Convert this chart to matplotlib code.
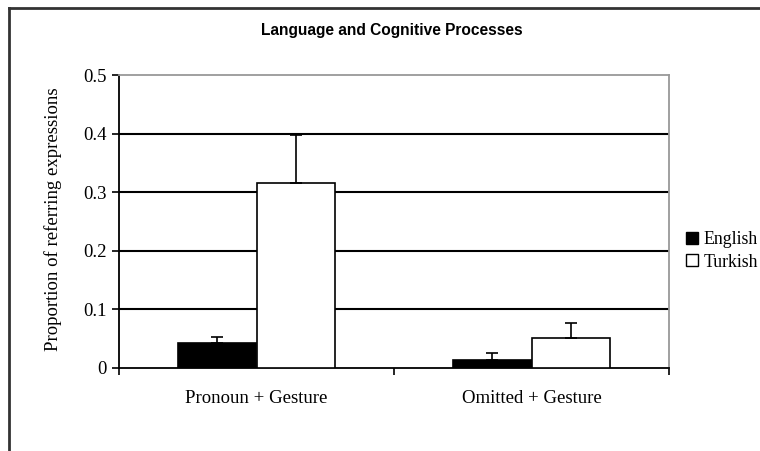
import numpy as np
import matplotlib.pyplot as plt
from matplotlib.lines import Line2D

# data
categories = ['Pronoun + Gesture', 'Omitted + Gesture']
english = [0.043, 0.013]
turkish = [0.315, 0.051]
english_err = [0.010, 0.013]
turkish_err = [0.083, 0.025]
yticks = [0, 0.1, 0.2, 0.3, 0.4, 0.5]

W, H = 760, 451
fig = plt.figure(figsize=(W/100, H/100), dpi=100)
ax = fig.add_axes([119/W, 1-368/H, 550/W, 293/H])

serif = 'Liberation Serif'
fs = 13.5
x = np.arange(len(categories)) + 0.5
bw = 0.284

ax.bar(x - bw/2, english, bw, color='black', edgecolor='black', lw=1.2,
       yerr=[np.zeros(2), english_err], error_kw=dict(ecolor='black', lw=1.2, capsize=4, capthick=1.2),
       label='English', zorder=3)
ax.bar(x + bw/2, turkish, bw, color='white', edgecolor='black', lw=1.2,
       yerr=[np.zeros(2), turkish_err], error_kw=dict(ecolor='black', lw=1.2, capsize=4, capthick=1.2),
       label='Turkish', zorder=3)

ax.set_xlim(0, 2)
ax.set_ylim(0, 0.5)
ax.set_yticks(yticks)
ax.set_yticklabels(['0', '0.1', '0.2', '0.3', '0.4', '0.5'], fontfamily=serif, fontsize=fs)
for y in yticks[1:-1]:
    ax.axhline(y, color='black', lw=1.5, zorder=1)

ax.set_xticks(x)
ax.set_xticklabels(categories, fontfamily=serif, fontsize=fs)
ax.tick_params(axis='x', which='major', length=0, pad=16)
ax.set_xticks([0, 1, 2], minor=True)
ax.tick_params(axis='x', which='minor', length=5, width=1.2, direction='out')
ax.tick_params(axis='y', length=5, width=1.2, direction='out', pad=4)

ax.spines['left'].set_linewidth(1.3)
ax.spines['bottom'].set_linewidth(1.3)
ax.spines['top'].set_color('#999999')
ax.spines['right'].set_color('#999999')
ax.spines['top'].set_linewidth(1.3)
ax.spines['right'].set_linewidth(1.3)

ax.set_ylabel('Proportion of referring expressions', fontfamily=serif, fontsize=fs)
ax.yaxis.set_label_coords(62/W, 1-219/H, transform=fig.transFigure)

handles = [Line2D([], [], marker='s', ls='', mfc='black', mec='black', ms=8),
           Line2D([], [], marker='s', ls='', mfc='white', mec='black', ms=8)]
fig.legend(handles, ['English', 'Turkish'], loc='center left', bbox_to_anchor=(683/W, 1-251/H),
           frameon=False, prop={'family': serif, 'size': 12.8}, borderaxespad=0,
           handletextpad=0.15, labelspacing=0.3, handlelength=1.0, borderpad=0)

fig.text(392/W, 1-31/H, 'Language and Cognitive Processes', ha='center', va='center',
         fontfamily='Liberation Sans', fontweight='bold', fontsize=11.2)

# page frame
fig.add_artist(Line2D([9/W, 9/W], [0, 1-8/H], color='#333333', lw=2))
fig.add_artist(Line2D([9/W, 1], [1-8/H, 1-8/H], color='#333333', lw=2))

fig.savefig('out.png', dpi=100)
